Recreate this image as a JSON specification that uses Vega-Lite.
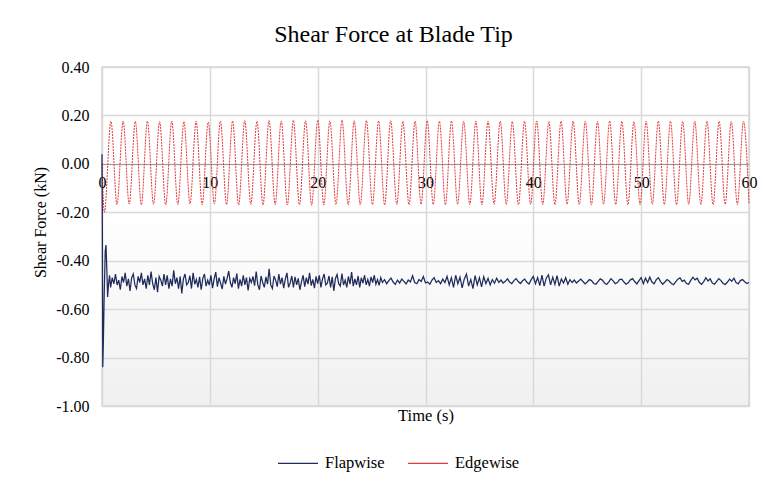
{
"$schema":"https://vega.github.io/schema/vega-lite/v6.json",
"width":647,"height":339,
"autosize":{"type":"none"},
"padding":{"left":102,"top":67,"right":14,"bottom":76},
"background":"white",
"view":{"stroke":"#d4d4d4","strokeWidth":1.5,"fill":{"gradient":"linear","x1":0,"y1":0,"x2":0,"y2":1,"stops":[{"offset":0,"color":"#ffffff"},{"offset":0.42,"color":"#ffffff"},{"offset":1,"color":"#f0f0f0"}]}},
"title":{"text":"Shear Force at Blade Tip","font":"Liberation Serif","fontSize":24,"fontWeight":"normal","color":"#000000","anchor":"middle","dx":-32,"offset":12},
"datasets":{
"edge":[{"t":0,"v":0},{"t":0.22,"v":-0.2},{"t":0.83,"v":0.176},{"t":1.39,"v":-0.168},{"t":1.96,"v":0.177},{"t":2.52,"v":-0.166},{"t":3.09,"v":0.175},{"t":3.65,"v":-0.169},{"t":4.21,"v":0.176},{"t":4.78,"v":-0.167},{"t":5.34,"v":0.174},{"t":5.91,"v":-0.17},{"t":6.47,"v":0.177},{"t":7.03,"v":-0.168},{"t":7.6,"v":0.175},{"t":8.16,"v":-0.166},{"t":8.73,"v":0.176},{"t":9.29,"v":-0.169},{"t":9.85,"v":0.173},{"t":10.42,"v":-0.165},{"t":10.98,"v":0.176},{"t":11.55,"v":-0.168},{"t":12.11,"v":0.177},{"t":12.67,"v":-0.17},{"t":13.24,"v":0.178},{"t":13.8,"v":-0.167},{"t":14.37,"v":0.176},{"t":14.93,"v":-0.169},{"t":15.49,"v":0.179},{"t":16.06,"v":-0.168},{"t":16.62,"v":0.177},{"t":17.19,"v":-0.17},{"t":17.75,"v":0.18},{"t":18.31,"v":-0.169},{"t":18.88,"v":0.178},{"t":19.44,"v":-0.171},{"t":20.01,"v":0.181},{"t":20.57,"v":-0.17},{"t":21.13,"v":0.178},{"t":21.7,"v":-0.168},{"t":22.26,"v":0.18},{"t":22.83,"v":-0.17},{"t":23.39,"v":0.178},{"t":23.95,"v":-0.169},{"t":24.52,"v":0.179},{"t":25.08,"v":-0.168},{"t":25.65,"v":0.177},{"t":26.21,"v":-0.17},{"t":26.77,"v":0.178},{"t":27.34,"v":-0.168},{"t":27.9,"v":0.176},{"t":28.47,"v":-0.169},{"t":29.03,"v":0.177},{"t":29.59,"v":-0.167},{"t":30.16,"v":0.178},{"t":30.72,"v":-0.168},{"t":31.29,"v":0.176},{"t":31.85,"v":-0.169},{"t":32.41,"v":0.177},{"t":32.98,"v":-0.167},{"t":33.54,"v":0.176},{"t":34.11,"v":-0.168},{"t":34.67,"v":0.177},{"t":35.23,"v":-0.169},{"t":35.8,"v":0.176},{"t":36.36,"v":-0.167},{"t":36.93,"v":0.177},{"t":37.49,"v":-0.168},{"t":38.05,"v":0.175},{"t":38.62,"v":-0.169},{"t":39.18,"v":0.176},{"t":39.75,"v":-0.167},{"t":40.31,"v":0.177},{"t":40.87,"v":-0.168},{"t":41.44,"v":0.175},{"t":42.0,"v":-0.169},{"t":42.57,"v":0.176},{"t":43.13,"v":-0.167},{"t":43.69,"v":0.177},{"t":44.26,"v":-0.168},{"t":44.82,"v":0.176},{"t":45.39,"v":-0.169},{"t":45.95,"v":0.175},{"t":46.51,"v":-0.167},{"t":47.08,"v":0.177},{"t":47.64,"v":-0.168},{"t":48.21,"v":0.176},{"t":48.77,"v":-0.169},{"t":49.33,"v":0.175},{"t":49.9,"v":-0.168},{"t":50.46,"v":0.176},{"t":51.03,"v":-0.167},{"t":51.59,"v":0.177},{"t":52.15,"v":-0.168},{"t":52.72,"v":0.176},{"t":53.28,"v":-0.169},{"t":53.85,"v":0.175},{"t":54.41,"v":-0.167},{"t":54.97,"v":0.176},{"t":55.54,"v":-0.168},{"t":56.1,"v":0.177},{"t":56.67,"v":-0.169},{"t":57.23,"v":0.176},{"t":57.79,"v":-0.167},{"t":58.36,"v":0.175},{"t":58.92,"v":-0.168},{"t":59.49,"v":0.176},{"t":60,"v":-0.166}],
"flap":[{"t":0,"v":0.04},{"t":0.03,"v":-0.2},{"t":0.07,"v":-0.84},{"t":0.12,"v":-0.75},{"t":0.2,"v":-0.55},{"t":0.3,"v":-0.36},{"t":0.37,"v":-0.335},{"t":0.45,"v":-0.44},{"t":0.52,"v":-0.55},{"t":0.6,"v":-0.5},{"t":0.7,"v":-0.46},
{"t":0.8,"v":-0.51},{"t":0.95,"v":-0.47},{"t":1.1,"v":-0.495},{"t":1.25,"v":-0.455},{"t":1.4,"v":-0.5},{"t":1.55,"v":-0.48},{"t":1.7,"v":-0.52},{"t":1.85,"v":-0.465},{"t":2.0,"v":-0.49},{"t":2.15,"v":-0.45},{"t":2.3,"v":-0.505},{"t":2.45,"v":-0.475},{"t":2.6,"v":-0.525},{"t":2.75,"v":-0.47},{"t":2.9,"v":-0.455},{"t":3.05,"v":-0.5},{"t":3.2,"v":-0.515},{"t":3.35,"v":-0.465},{"t":3.5,"v":-0.49},{"t":3.65,"v":-0.45},{"t":3.8,"v":-0.5},{"t":3.95,"v":-0.475},{"t":4.1,"v":-0.515},{"t":4.25,"v":-0.46},{"t":4.4,"v":-0.5},{"t":4.55,"v":-0.445},{"t":4.7,"v":-0.495},{"t":4.85,"v":-0.52},{"t":5.0,"v":-0.47},{"t":5.15,"v":-0.53},{"t":5.3,"v":-0.465},{"t":5.45,"v":-0.48},{"t":5.6,"v":-0.505},{"t":5.75,"v":-0.455},{"t":5.9,"v":-0.5},{"t":6.05,"v":-0.46},{"t":6.2,"v":-0.515},{"t":6.35,"v":-0.475},{"t":6.5,"v":-0.505},{"t":6.65,"v":-0.44},{"t":6.8,"v":-0.495},{"t":6.95,"v":-0.47},{"t":7.1,"v":-0.515},{"t":7.25,"v":-0.465},{"t":7.4,"v":-0.535},{"t":7.55,"v":-0.475},{"t":7.7,"v":-0.455},{"t":7.85,"v":-0.5},{"t":8.0,"v":-0.49},{"t":8.15,"v":-0.462},{"t":8.3,"v":-0.515},{"t":8.45,"v":-0.45},{"t":8.6,"v":-0.497},{"t":8.75,"v":-0.477},{"t":8.9,"v":-0.51},{"t":9.05,"v":-0.467},{"t":9.2,"v":-0.52},{"t":9.35,"v":-0.473},{"t":9.5,"v":-0.455},{"t":9.65,"v":-0.505},{"t":9.8,"v":-0.48},{"t":9.95,"v":-0.5},{"t":10.1,"v":-0.46},{"t":10.25,"v":-0.513},{"t":10.4,"v":-0.475},{"t":10.55,"v":-0.447},{"t":10.7,"v":-0.507},{"t":10.85,"v":-0.47},{"t":11.0,"v":-0.493},{"t":11.15,"v":-0.517},{"t":11.3,"v":-0.465},{"t":11.45,"v":-0.497},{"t":11.6,"v":-0.473},{"t":11.75,"v":-0.443},{"t":11.9,"v":-0.49},{"t":12.05,"v":-0.51},{"t":12.2,"v":-0.47},{"t":12.35,"v":-0.495},{"t":12.5,"v":-0.453},{"t":12.65,"v":-0.515},{"t":12.8,"v":-0.477},{"t":12.95,"v":-0.505},{"t":13.1,"v":-0.46},{"t":13.25,"v":-0.5},{"t":13.4,"v":-0.47},{"t":13.55,"v":-0.523},{"t":13.7,"v":-0.473},{"t":13.85,"v":-0.49},{"t":14.0,"v":-0.465},{"t":14.15,"v":-0.503},{"t":14.3,"v":-0.445},{"t":14.45,"v":-0.5},{"t":14.6,"v":-0.52},{"t":14.75,"v":-0.463},{"t":14.9,"v":-0.49},{"t":15.05,"v":-0.51},{"t":15.2,"v":-0.467},{"t":15.35,"v":-0.497},{"t":15.5,"v":-0.433},{"t":15.65,"v":-0.5},{"t":15.8,"v":-0.515},{"t":15.95,"v":-0.463},{"t":16.1,"v":-0.48},{"t":16.25,"v":-0.507},{"t":16.4,"v":-0.455},{"t":16.55,"v":-0.497},{"t":16.7,"v":-0.47},{"t":16.85,"v":-0.513},{"t":17.0,"v":-0.475},{"t":17.15,"v":-0.45},{"t":17.3,"v":-0.51},{"t":17.45,"v":-0.492},{"t":17.6,"v":-0.463},{"t":17.75,"v":-0.51},{"t":17.9,"v":-0.467},{"t":18.05,"v":-0.5},{"t":18.2,"v":-0.473},{"t":18.35,"v":-0.52},{"t":18.5,"v":-0.487},{"t":18.65,"v":-0.46},{"t":18.8,"v":-0.507},{"t":18.95,"v":-0.47},{"t":19.1,"v":-0.497},{"t":19.25,"v":-0.45},{"t":19.4,"v":-0.503},{"t":19.55,"v":-0.477},{"t":19.7,"v":-0.513},{"t":19.85,"v":-0.465},{"t":20.0,"v":-0.495},{"t":20.15,"v":-0.46},{"t":20.3,"v":-0.51},{"t":20.45,"v":-0.475},{"t":20.6,"v":-0.455},{"t":20.75,"v":-0.5},{"t":20.9,"v":-0.493},{"t":21.05,"v":-0.463},{"t":21.2,"v":-0.51},{"t":21.35,"v":-0.467},{"t":21.5,"v":-0.525},{"t":21.65,"v":-0.473},{"t":21.8,"v":-0.457},{"t":21.95,"v":-0.495},{"t":22.1,"v":-0.505},{"t":22.25,"v":-0.453},{"t":22.4,"v":-0.5},{"t":22.55,"v":-0.48},{"t":22.7,"v":-0.51},{"t":22.85,"v":-0.465},{"t":23.0,"v":-0.497},{"t":23.15,"v":-0.447},{"t":23.3,"v":-0.505},{"t":23.45,"v":-0.475},{"t":23.6,"v":-0.5},{"t":23.75,"v":-0.463},{"t":23.9,"v":-0.51},{"t":24.05,"v":-0.47},{"t":24.2,"v":-0.493},{"t":24.35,"v":-0.46},{"t":24.5,"v":-0.5},{"t":24.65,"v":-0.477},{"t":24.8,"v":-0.505},{"t":24.95,"v":-0.467},{"t":25.1,"v":-0.49},{"t":25.25,"v":-0.46},{"t":25.4,"v":-0.497},{"t":25.55,"v":-0.478},{"t":25.7,"v":-0.502},{"t":25.85,"v":-0.47},
{"t":26.0,"v":-0.49},{"t":26.2,"v":-0.478},{"t":26.4,"v":-0.495},{"t":26.6,"v":-0.482},{"t":26.8,"v":-0.472},{"t":27.0,"v":-0.488},{"t":27.2,"v":-0.498},{"t":27.4,"v":-0.48},{"t":27.6,"v":-0.492},{"t":27.8,"v":-0.476},{"t":28.0,"v":-0.485},{"t":28.2,"v":-0.496},{"t":28.4,"v":-0.48},{"t":28.6,"v":-0.488},{"t":28.8,"v":-0.462},{"t":29.0,"v":-0.49},{"t":29.2,"v":-0.495},{"t":29.4,"v":-0.478},{"t":29.6,"v":-0.486},{"t":29.8,"v":-0.465},{"t":30.0,"v":-0.492},{"t":30.2,"v":-0.488},{"t":30.4,"v":-0.497},{"t":30.6,"v":-0.48},{"t":30.8,"v":-0.47},{"t":31.0,"v":-0.49},{"t":31.2,"v":-0.482},{"t":31.4,"v":-0.495},{"t":31.6,"v":-0.476},{"t":31.8,"v":-0.49},
{"t":32.0,"v":-0.465},{"t":32.2,"v":-0.5},{"t":32.4,"v":-0.47},{"t":32.6,"v":-0.51},{"t":32.8,"v":-0.46},{"t":33.0,"v":-0.495},{"t":33.2,"v":-0.468},{"t":33.4,"v":-0.512},{"t":33.6,"v":-0.475},{"t":33.8,"v":-0.455},{"t":34.0,"v":-0.505},{"t":34.2,"v":-0.478},{"t":34.4,"v":-0.515},{"t":34.6,"v":-0.462},{"t":34.8,"v":-0.5},{"t":35.0,"v":-0.47},{"t":35.2,"v":-0.508},{"t":35.4,"v":-0.466},{"t":35.6,"v":-0.495},{"t":35.8,"v":-0.473},{"t":36.0,"v":-0.5},{"t":36.2,"v":-0.478},{"t":36.4,"v":-0.493},{"t":36.6,"v":-0.472},{"t":36.8,"v":-0.49},
{"t":37.0,"v":-0.48},{"t":37.2,"v":-0.492},{"t":37.4,"v":-0.485},{"t":37.6,"v":-0.475},{"t":37.8,"v":-0.488},{"t":38.0,"v":-0.495},{"t":38.2,"v":-0.482},{"t":38.4,"v":-0.474},{"t":38.6,"v":-0.486},{"t":38.8,"v":-0.494},{"t":39.0,"v":-0.483},{"t":39.2,"v":-0.476},{"t":39.4,"v":-0.489},{"t":39.6,"v":-0.496},{"t":39.8,"v":-0.478},
{"t":40.0,"v":-0.465},{"t":40.2,"v":-0.495},{"t":40.4,"v":-0.47},{"t":40.6,"v":-0.503},{"t":40.8,"v":-0.46},{"t":41.0,"v":-0.505},{"t":41.2,"v":-0.472},{"t":41.4,"v":-0.458},{"t":41.6,"v":-0.5},{"t":41.8,"v":-0.468},{"t":42.0,"v":-0.498},{"t":42.2,"v":-0.462},{"t":42.4,"v":-0.505},{"t":42.6,"v":-0.475},{"t":42.8,"v":-0.492},{"t":43.0,"v":-0.47},{"t":43.2,"v":-0.497},{"t":43.4,"v":-0.478},{"t":43.6,"v":-0.49},{"t":43.8,"v":-0.48},
{"t":44.0,"v":-0.492},{"t":44.2,"v":-0.484},{"t":44.4,"v":-0.476},{"t":44.6,"v":-0.486},{"t":44.8,"v":-0.496},{"t":45.0,"v":-0.488},{"t":45.2,"v":-0.478},{"t":45.4,"v":-0.482},{"t":45.6,"v":-0.494},{"t":45.8,"v":-0.497},{"t":46.0,"v":-0.486},{"t":46.2,"v":-0.475},{"t":46.4,"v":-0.48},{"t":46.6,"v":-0.492},{"t":46.8,"v":-0.498},{"t":47.0,"v":-0.487},{"t":47.2,"v":-0.474},{"t":47.4,"v":-0.483},{"t":47.6,"v":-0.495},{"t":47.8,"v":-0.49},{"t":48.0,"v":-0.478},{"t":48.2,"v":-0.476},{"t":48.4,"v":-0.488},{"t":48.6,"v":-0.497},{"t":48.8,"v":-0.491},{"t":49.0,"v":-0.479},{"t":49.2,"v":-0.474},{"t":49.4,"v":-0.486},{"t":49.6,"v":-0.496},{"t":49.8,"v":-0.482},
{"t":50.0,"v":-0.47},{"t":50.2,"v":-0.495},{"t":50.4,"v":-0.472},{"t":50.6,"v":-0.49},{"t":50.8,"v":-0.468},{"t":51.0,"v":-0.488},{"t":51.2,"v":-0.495},{"t":51.4,"v":-0.478},{"t":51.6,"v":-0.47},{"t":51.8,"v":-0.486},{"t":52.0,"v":-0.497},{"t":52.2,"v":-0.488},{"t":52.4,"v":-0.478},{"t":52.6,"v":-0.484},{"t":52.8,"v":-0.494},{"t":53.0,"v":-0.499},{"t":53.2,"v":-0.487},{"t":53.4,"v":-0.476},{"t":53.6,"v":-0.471},{"t":53.8,"v":-0.485},{"t":54.0,"v":-0.48},{"t":54.2,"v":-0.494},{"t":54.4,"v":-0.497},{"t":54.6,"v":-0.481},{"t":54.8,"v":-0.468},{"t":55.0,"v":-0.479},{"t":55.2,"v":-0.472},{"t":55.4,"v":-0.49},{"t":55.6,"v":-0.498},{"t":55.8,"v":-0.486},{"t":56.0,"v":-0.47},{"t":56.2,"v":-0.484},{"t":56.4,"v":-0.475},{"t":56.6,"v":-0.492},{"t":56.8,"v":-0.497},{"t":57.0,"v":-0.485},{"t":57.2,"v":-0.474},{"t":57.4,"v":-0.482},{"t":57.6,"v":-0.494},{"t":57.8,"v":-0.498},{"t":58.0,"v":-0.488},{"t":58.2,"v":-0.476},{"t":58.4,"v":-0.485},{"t":58.6,"v":-0.472},{"t":58.8,"v":-0.49},{"t":59.0,"v":-0.496},{"t":59.2,"v":-0.482},{"t":59.4,"v":-0.478},{"t":59.6,"v":-0.487},{"t":59.8,"v":-0.494},{"t":60.0,"v":-0.49}]
},
"layer":[
{"data":{"name":"edge"},
 "mark":{"type":"line","interpolate":"monotone","strokeWidth":1,"strokeDash":[2,1]},
 "encoding":{
  "x":{"field":"t","type":"quantitative","scale":{"domain":[0,60],"nice":false,"zero":false},
   "axis":{"values":[0,10,20,30,40,50,60],"format":"d","offset":-242,"title":"Time (s)","titleFont":"Liberation Serif","titleFontSize":16.5,"titleFontWeight":"normal","titleColor":"#000000","titleY":243,"titleBaseline":"top","labelFont":"Liberation Serif","labelFontSize":16,"labelColor":"#000000","labelPadding":10,"labelFlush":false,"labelOverlap":false,"ticks":false,"domain":true,"domainColor":"#9a9a9a","domainWidth":1,"grid":true,"gridColor":"#d9d9d9","gridWidth":1.5}},
  "y":{"field":"v","type":"quantitative","scale":{"domain":[-1,0.4],"nice":false,"zero":false},
   "axis":{"values":[-1,-0.8,-0.6,-0.4,-0.2,0,0.2,0.4],"labelExpr":"replace(format(datum.value,'.2f'),'\u2212','-')","title":"Shear Force (kN)","titleFont":"Liberation Serif","titleFontSize":16,"titleFontWeight":"normal","titleColor":"#000000","titleX":-62,"titleY":155,"titleAngle":-90,"titleAlign":"center","titleBaseline":"middle","labelFont":"Liberation Serif","labelFontSize":16,"labelColor":"#000000","labelPadding":13,"labelOverlap":false,"ticks":false,"domain":false,"grid":true,"gridColor":"#d9d9d9","gridWidth":1.5}},
  "color":{"datum":"Edgewise","type":"nominal","scale":{"domain":["Flapwise","Edgewise"],"range":["#1f2b5b","#e5383b"]},
   "legend":{"orient":"none","legendX":175,"legendY":375,"direction":"horizontal","title":null,"labelFont":"Liberation Serif","labelFontSize":16.5,"labelColor":"#000000","symbolType":"stroke","symbolSize":1600,"symbolStrokeWidth":1.25,"labelOffset":6,"columnPadding":20}}
 }},
{"data":{"name":"flap"},
 "mark":{"type":"line","strokeWidth":1.25},
 "encoding":{
  "x":{"field":"t","type":"quantitative"},
  "y":{"field":"v","type":"quantitative"},
  "color":{"datum":"Flapwise","type":"nominal"}
 }}
]
}
